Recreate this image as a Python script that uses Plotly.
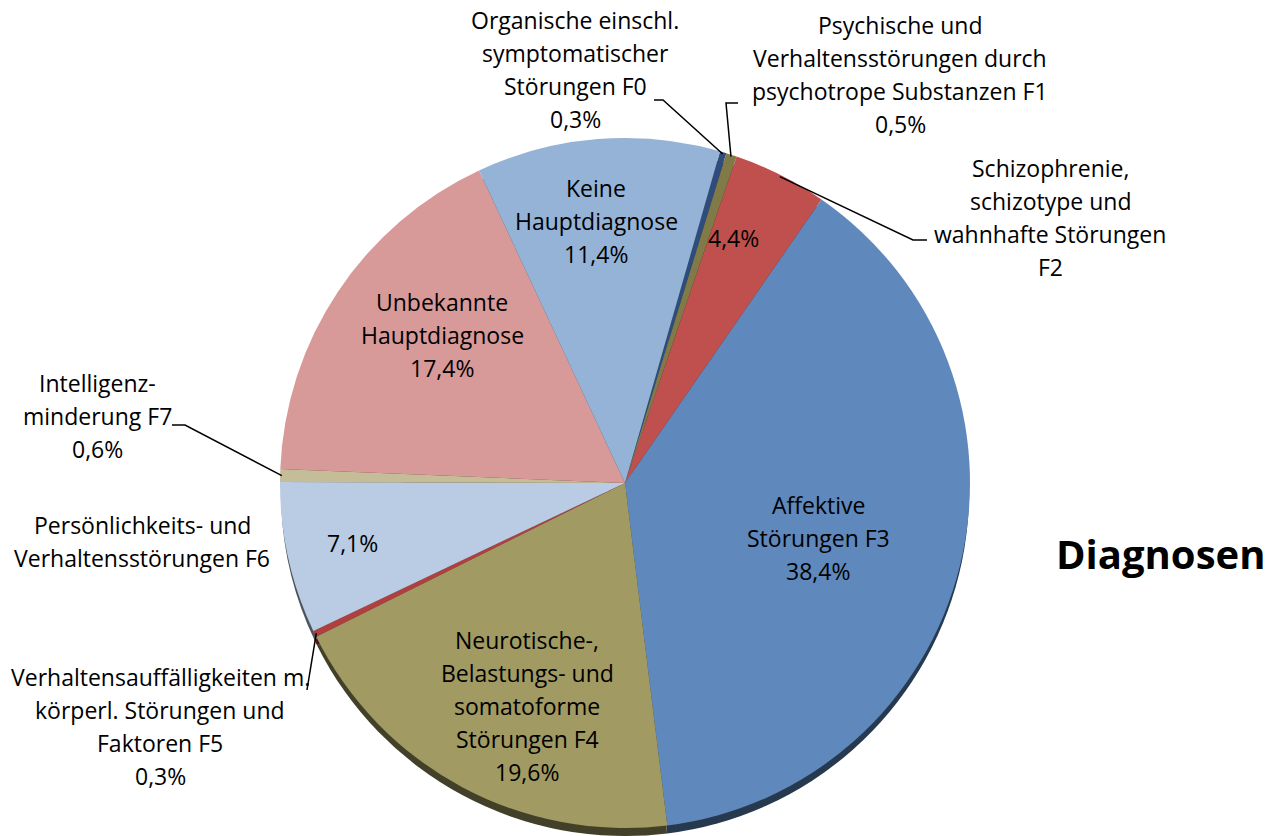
import math
import plotly.graph_objects as go

# ---------------- data ----------------
categories = [
    "Organische einschl. symptomatischer Störungen F0",
    "Psychische und Verhaltensstörungen durch psychotrope Substanzen F1",
    "Schizophrenie, schizotype und wahnhafte Störungen F2",
    "Affektive Störungen F3",
    "Neurotische-, Belastungs- und somatoforme Störungen F4",
    "Verhaltensauffälligkeiten m. körperl. Störungen und Faktoren F5",
    "Persönlichkeits- und Verhaltensstörungen F6",
    "Intelligenzminderung F7",
    "Unbekannte Hauptdiagnose",
    "Keine Hauptdiagnose",
]
values = [0.3, 0.5, 4.4, 38.4, 19.6, 0.3, 7.1, 0.6, 17.4, 11.4]
name_lines = [
    ["Organische einschl.", "symptomatischer", "Störungen F0"],
    ["Psychische und", "Verhaltensstörungen durch", "psychotrope Substanzen F1"],
    ["Schizophrenie,", "schizotype und", "wahnhafte Störungen", "F2"],
    ["Affektive", "Störungen F3"],
    ["Neurotische-,", "Belastungs- und", "somatoforme", "Störungen F4"],
    ["Verhaltensauffälligkeiten m.", "körperl. Störungen und", "Faktoren F5"],
    ["Persönlichkeits- und", "Verhaltensstörungen F6"],
    ["Intelligenz-", "minderung F7"],
    ["Unbekannte", "Hauptdiagnose"],
    ["Keine", "Hauptdiagnose"],
]
title_text = "Diagnosen"

# ---------------- styles / layout ----------------
colors = ["#2E4D7C", "#807A48", "#C0504D", "#5F88BD", "#A19A62",
          "#B0403D", "#BACCE4", "#C4BD97", "#D89A98", "#95B3D7"]
W, H = 1283, 836
CX, CY, R = 625, 483, 345
ROT = 16
SHADOW = 10
FONT = "Open Sans"
FS = 23
LINE = 33


def px2paper(x, y):
    return x / W, 1 - y / H


def darken(hx, f=0.42):
    hx = hx.lstrip("#")
    r, g, b = (int(hx[i:i + 2], 16) for i in (0, 2, 4))
    return "#%02x%02x%02x" % (int(r * f), int(g * f), int(b * f))


def pct(v):
    return f"{v:.1f}".replace(".", ",") + "%"


def edge_point(i, frac=1.0):
    total = sum(values)
    before = sum(values[:i])
    ang = math.radians(ROT + (before + values[i] / 2) / total * 360)
    return CX + frac * R * math.sin(ang), CY - frac * R * math.cos(ang)


x0, _ = px2paper(CX - R, 0)
x1, _ = px2paper(CX + R, 0)
_, ytop = px2paper(0, CY - R)
_, ybot = px2paper(0, CY + R)
_, ytop_s = px2paper(0, CY - R + SHADOW)
_, ybot_s = px2paper(0, min(CY + R + SHADOW, H))

fig = go.Figure()
# 3D rim (shadow) pie
fig.add_trace(go.Pie(
    labels=categories, values=values, sort=False, direction="clockwise",
    rotation=ROT, textinfo="none", hoverinfo="skip", showlegend=False,
    marker=dict(colors=[darken(c) for c in colors], line=dict(width=0)),
    domain=dict(x=[x0, x1], y=[ybot_s, ytop_s]),
))
# main pie
fig.add_trace(go.Pie(
    labels=categories, values=values, sort=False, direction="clockwise",
    rotation=ROT, textinfo="none", showlegend=False,
    marker=dict(colors=colors, line=dict(width=0)),
    domain=dict(x=[x0, x1], y=[ybot, ytop]),
))

# label blocks: (slice index, include name, include pct, centre x px, first line y px)
blocks = [
    (0, True, True, 575, 20),
    (1, True, True, 900, 25),
    (2, True, False, 1050, 168),
    (2, False, True, 733, 238),
    (3, True, True, 818, 505),
    (4, True, True, 527, 640),
    (5, True, True, 160, 677),
    (6, True, False, 142, 525),
    (6, False, True, 352, 543),
    (7, True, True, 97, 383),
    (8, True, True, 442, 302),
    (9, True, True, 596, 188),
]
annotations = []
for i, with_name, with_pct, bx, by in blocks:
    lines = (name_lines[i] if with_name else []) + ([pct(values[i])] if with_pct else [])
    for k, t in enumerate(lines):
        px, py = px2paper(bx, by + k * LINE)
        annotations.append(dict(
            x=px, y=py, xref="paper", yref="paper", text=t, showarrow=False,
            xanchor="center", yanchor="middle",
            font=dict(family=FONT, size=FS, color="#000000"),
        ))

tx, ty = px2paper(1160, 553)
annotations.append(dict(
    x=tx, y=ty, xref="paper", yref="paper", text=f"<b>{title_text}</b>",
    showarrow=False, xanchor="center", yanchor="middle",
    font=dict(family=FONT, size=40, color="#000000"),
))

# leader lines: slice index and elbow points (px)
leaders = [
    (0, [(663, 100), (654, 100)]),
    (1, [(726, 103), (738, 103)]),
    (2, [(913, 240), (927, 240)]),
    (7, [(185, 425), (172, 425)]),
    (5, [(307, 690)]),
]
shapes = []
for i, pts in leaders:
    ex, ey = edge_point(i, 0.995)
    allpts = [(ex, ey)] + pts
    path = ""
    for k, (a, b) in enumerate(allpts):
        pa, pb = px2paper(a, b)
        path += ("M" if k == 0 else " L") + f" {pa:.5f} {pb:.5f}"
    shapes.append(dict(type="path", path=path, xref="paper", yref="paper",
                       line=dict(color="#000000", width=1.5)))

fig.update_layout(
    width=W, height=H,
    margin=dict(l=0, r=0, t=0, b=0),
    paper_bgcolor="#FFFFFF", plot_bgcolor="#FFFFFF",
    annotations=annotations, shapes=shapes,
    font=dict(family=FONT),
)

fig.write_html("out.html", config={"displayModeBar": False},
               post_script="document.body.style.margin='0';")
